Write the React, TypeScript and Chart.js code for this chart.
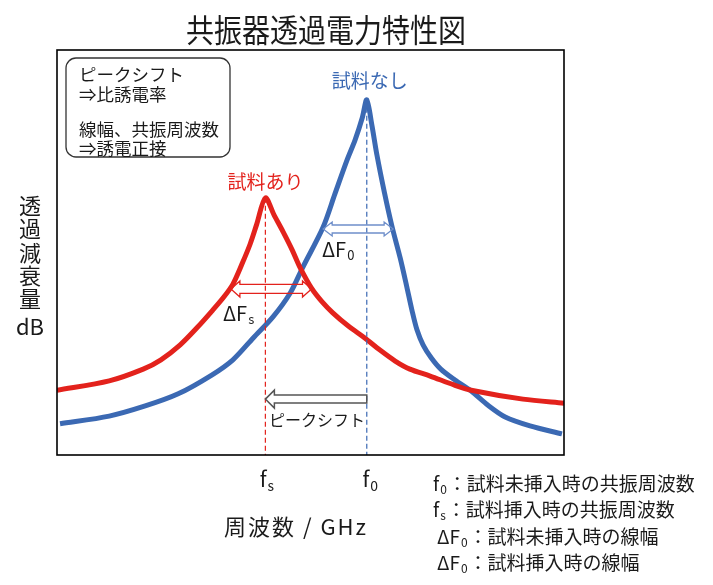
import { useEffect, useRef } from "react";
import { Chart, registerables } from "chart.js";

Chart.register(...registerables);

// ---- data (arbitrary units: frequency 0..100, attenuation 0..100) ----
const redX = [0, 10.3, 17.0, 20.5, 24.3, 27.6, 30.6, 32.9, 34.7, 36.5, 38.1, 39.4, 41.1, 42.8, 44.6, 46.4, 47.9, 50.2, 52.3, 54.4, 57.4, 60.7, 63.7, 66.7, 69.6, 73.6, 78.3, 81.7, 91.9, 100];
const redY = [16.0, 18.3, 21.2, 23.5, 27.2, 31.4, 35.6, 39.0, 42.2, 47.2, 52.1, 57.0, 63.5, 59.3, 55.1, 50.6, 46.4, 41.2, 37.8, 35.1, 31.9, 28.9, 25.9, 23.2, 21.2, 19.5, 17.3, 16.0, 13.8, 12.8];
const blueX = [0.6, 10.3, 17.4, 23.9, 30.6, 34.7, 38.7, 42.6, 46.0, 48.5, 52.5, 54.8, 57.2, 58.8, 60.2, 61.1, 62.1, 63.1, 64.6, 66.1, 67.7, 69.0, 70.0, 71.0, 72.2, 73.8, 75.7, 78.5, 81.7, 85.0, 88.4, 93.3, 99.6];
const blueY = [7.7, 9.6, 12.1, 15.1, 19.8, 23.5, 28.9, 34.1, 40.0, 46.4, 56.3, 64.4, 72.8, 77.8, 83.2, 87.7, 81.5, 74.1, 64.7, 56.3, 48.6, 41.5, 35.8, 30.9, 27.2, 24.0, 21.2, 18.5, 15.8, 12.3, 9.4, 7.2, 5.2];

// linewidth markers (ΔFs, ΔF0) and peak-shift arrow level
const dFsLevel = 41.0;
const dFsRange = [34.3, 50.2];
const dF0Level = 55.8;
const dF0Range = [52.5, 66.3];
const shiftLevel = 13.8;

const TITLE = "共振器透過電力特性図";
const X_TITLE = "周波数 / GHz";
const Y_TITLE = ["透", "過", "減", "衰", "量", "dB"];
const BOX_LINES = ["ピークシフト", "⇒比誘電率", "線幅、共振周波数", "⇒誘電正接"];
const NOTE_LINES = [
  { main: "f", sub: "0", rest: "：試料未挿入時の共振周波数" },
  { main: "f", sub: "s", rest: "：試料挿入時の共振周波数" },
  { main: "ΔF", sub: "0", rest: "：試料未挿入時の線幅" },
  { main: "ΔF", sub: "0", rest: "：試料挿入時の線幅" },
];

const RED = "#E3221C";
const BLUE = "#3B69B3";
const TXT = "#1a1a1a";
const FONT = '"Noto Sans CJK JP", "Noto Sans", sans-serif';

function peakOf(xs: number[], ys: number[]) {
  let i = 0;
  ys.forEach((v, k) => { if (v > ys[i]) i = k; });
  return { x: xs[i], y: ys[i] };
}

function subText(ctx: CanvasRenderingContext2D, main: string, sub: string, x: number, y: number, size: number, subSize: number, align: "left" | "center", color: string) {
  ctx.font = `${size}px ${FONT}`;
  const wm = ctx.measureText(main).width;
  ctx.font = `${subSize}px ${FONT}`;
  const ws = ctx.measureText(sub).width;
  const x0 = align === "center" ? x - (wm + ws) / 2 : x;
  ctx.fillStyle = color;
  ctx.textAlign = "left";
  ctx.textBaseline = "middle";
  ctx.font = `${size}px ${FONT}`;
  ctx.fillText(main, x0, y);
  ctx.font = `${subSize}px ${FONT}`;
  ctx.fillText(sub, x0 + wm + 1, y + size * 0.3);
  return x0 + wm + ws + 1;
}

function doubleArrow(ctx: CanvasRenderingContext2D, x1: number, x2: number, y: number, half: number, hh: number, hl: number) {
  ctx.beginPath();
  ctx.moveTo(x1, y);
  ctx.lineTo(x1 + hl, y - hh);
  ctx.lineTo(x1 + hl, y - half);
  ctx.lineTo(x2 - hl, y - half);
  ctx.lineTo(x2 - hl, y - hh);
  ctx.lineTo(x2, y);
  ctx.lineTo(x2 - hl, y + hh);
  ctx.lineTo(x2 - hl, y + half);
  ctx.lineTo(x1 + hl, y + half);
  ctx.lineTo(x1 + hl, y + hh);
  ctx.closePath();
  ctx.stroke();
}

function leftArrow(ctx: CanvasRenderingContext2D, xl: number, xr: number, y: number, half: number, hh: number, hl: number) {
  ctx.beginPath();
  ctx.moveTo(xl, y);
  ctx.lineTo(xl + hl, y - hh);
  ctx.lineTo(xl + hl, y - half);
  ctx.lineTo(xr, y - half);
  ctx.lineTo(xr, y + half);
  ctx.lineTo(xl + hl, y + half);
  ctx.lineTo(xl + hl, y + hh);
  ctx.closePath();
  ctx.fillStyle = "#fff";
  ctx.fill();
  ctx.stroke();
}

const overlay = {
  id: "overlay",
  afterDatasetsDraw(chart: any) {
    const { ctx, chartArea: a, scales } = chart;
    const X = (v: number) => scales.x.getPixelForValue(v);
    const Y = (v: number) => scales.y.getPixelForValue(v);
    const rp = peakOf(redX, redY);
    const bp = peakOf(blueX, blueY);
    ctx.save();

    // dashed resonance lines
    ctx.lineWidth = 1.2;
    ctx.setLineDash([5, 3]);
    ctx.strokeStyle = RED;
    ctx.beginPath(); ctx.moveTo(X(rp.x), Y(rp.y)); ctx.lineTo(X(rp.x), a.bottom); ctx.stroke();
    ctx.strokeStyle = BLUE;
    ctx.beginPath(); ctx.moveTo(X(bp.x), Y(bp.y)); ctx.lineTo(X(bp.x), a.bottom); ctx.stroke();
    ctx.setLineDash([]);

    // linewidth arrows
    ctx.lineWidth = 1.3;
    ctx.strokeStyle = RED;
    doubleArrow(ctx, X(dFsRange[0]), X(dFsRange[1]), Y(dFsLevel), 4.5, 8, 9);
    ctx.strokeStyle = "#6f8fca";
    doubleArrow(ctx, X(dF0Range[0]), X(dF0Range[1]), Y(dF0Level), 4, 7, 9);

    // peak shift arrow
    ctx.strokeStyle = "#555";
    ctx.lineWidth = 1.5;
    leftArrow(ctx, X(rp.x), X(bp.x), Y(shiftLevel), 4, 9, 9);

    // plot border
    ctx.strokeStyle = "#000";
    ctx.lineWidth = 1.6;
    ctx.strokeRect(a.left, a.top, a.right - a.left, a.bottom - a.top);

    // title (slightly tall glyphs)
    ctx.textBaseline = "middle";
    ctx.textAlign = "center";
    ctx.fillStyle = TXT;
    ctx.save();
    ctx.translate(326, 30);
    ctx.scale(1, 1.12);
    ctx.font = `28px ${FONT}`;
    ctx.fillText(TITLE, 0, 0);
    ctx.restore();

    ctx.textAlign = "center";
    ctx.textBaseline = "middle";
    ctx.font = `19px ${FONT}`;
    ctx.fillStyle = RED;
    ctx.fillText("試料あり", X(rp.x), Y(rp.y) - 16);
    ctx.fillStyle = BLUE;
    ctx.fillText("試料なし", X(bp.x) + 3, Y(bp.y) - 19);

    ctx.fillStyle = TXT;
    ctx.font = `16px ${FONT}`;
    ctx.fillText("ピークシフト", (X(rp.x) + X(bp.x)) / 2 + 1, Y(shiftLevel) + 21);

    // Δ labels
    subText(ctx, "ΔF", "s", 223, 313, 20, 13, "left", TXT);
    subText(ctx, "ΔF", "0", 322, 249, 20, 13, "left", TXT);

    // tick labels
    subText(ctx, "f", "s", X(rp.x) + 1, 479, 21, 14, "center", TXT);
    subText(ctx, "f", "0", X(bp.x) + 3, 479, 21, 14, "center", TXT);

    // axis titles
    ctx.fillStyle = TXT;
    ctx.textAlign = "center";
    ctx.font = `22px ${FONT}`;
    (ctx as any).letterSpacing = "2px";
    ctx.fillText(X_TITLE, 296, 527);
    (ctx as any).letterSpacing = "0px";
    const yc = [206, 229, 252.5, 276, 299, 327];
    Y_TITLE.forEach((t, i) => {
      ctx.font = `22px ${FONT}`;
      ctx.fillText(t, 30, yc[i]);
    });

    // info box
    const bx = 66, by = 58, bw = 164, bh = 99, r = 10;
    ctx.strokeStyle = "#333";
    ctx.lineWidth = 1.3;
    ctx.beginPath();
    ctx.moveTo(bx + r, by);
    ctx.arcTo(bx + bw, by, bx + bw, by + bh, r);
    ctx.arcTo(bx + bw, by + bh, bx, by + bh, r);
    ctx.arcTo(bx, by + bh, bx, by, r);
    ctx.arcTo(bx, by, bx + bw, by, r);
    ctx.closePath();
    ctx.stroke();
    ctx.textAlign = "left";
    ctx.font = `17.5px ${FONT}`;
    const boxY = [74, 94, 129, 148];
    BOX_LINES.forEach((t, i) => ctx.fillText(t, 79, boxY[i]));

    // notes
    const noteY = [484, 510, 537, 563];
    NOTE_LINES.forEach((n, i) => {
      const x0 = n.main === "f" ? 433 : 437;
      const xe = subText(ctx, n.main, n.sub, x0, noteY[i], 19, 12, "left", TXT);
      ctx.font = `19px ${FONT}`;
      ctx.fillStyle = TXT;
      ctx.textAlign = "left";
      ctx.fillText(n.rest, xe + 1, noteY[i]);
    });

    ctx.restore();
  },
};

export default function App() {
  const ref = useRef<HTMLCanvasElement>(null);
  useEffect(() => {
    if (!ref.current) return;
    const chart = new Chart(ref.current, {
      type: "line",
      data: {
        datasets: [
          {
            label: "試料あり",
            data: redX.map((x, i) => ({ x, y: redY[i] })),
            borderColor: RED,
            borderWidth: 5,
            pointRadius: 0,
            tension: 0.3,
            fill: false,
          },
          {
            label: "試料なし",
            data: blueX.map((x, i) => ({ x, y: blueY[i] })),
            borderColor: BLUE,
            borderWidth: 5,
            pointRadius: 0,
            tension: 0.3,
            fill: false,
          },
        ],
      },
      options: {
        responsive: false,
        animation: false,
        layout: { padding: { left: 57, top: 50, right: 149, bottom: 130 } },
        plugins: { legend: { display: false }, tooltip: { enabled: false }, title: { display: false } },
        scales: {
          x: { type: "linear", min: 0, max: 100, display: false },
          y: { type: "linear", min: 0, max: 100, display: false },
        },
        elements: { line: { borderCapStyle: "butt", borderJoinStyle: "round" } },
      },
      plugins: [overlay],
    });
    return () => chart.destroy();
  }, []);
  return (
    <div style={{ position: "absolute", left: 0, top: 0, width: 713, height: 585, background: "#fff" }}>
      <canvas ref={ref} width={713} height={585} style={{ display: "block" }} />
    </div>
  );
}
